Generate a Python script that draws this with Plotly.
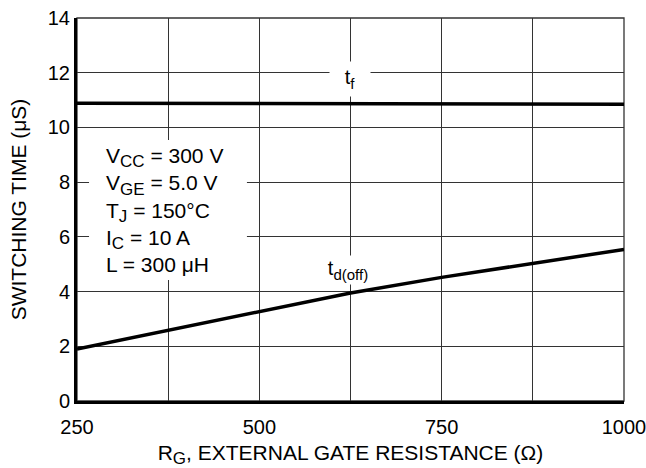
import plotly.graph_objects as go

rg = [250, 375, 500, 625, 750, 875, 1000]
t_f = [10.88, 10.875, 10.87, 10.865, 10.86, 10.855, 10.85]
t_doff = [1.90, 2.59, 3.26, 3.95, 4.52, 5.04, 5.54]

x_grid = [250, 375, 500, 625, 750, 875, 1000]
x_labels = ["250", "", "500", "", "750", "", "1000"]
y_ticks = [0, 2, 4, 6, 8, 10, 12, 14]

def sub(s, size=17):
    return f"<sub><span style='font-size:{size}px'>{s}</span></sub>"

conditions = [f"V{sub('CC')} = 300 V", f"V{sub('GE')} = 5.0 V", f"T{sub('J')} = 150°C",
              f"I{sub('C')} = 10 A", "L = 300 μH"]

FONT = "Liberation Sans, Arial, sans-serif"
TF = dict(size=20, family=FONT, color="black")
TT = dict(size=21, family=FONT, color="black")

fig = go.Figure()
fig.add_trace(go.Scatter(x=rg, y=t_f, mode="lines", line=dict(color="black", width=3.5), showlegend=False))
fig.add_trace(go.Scatter(x=rg, y=t_doff, mode="lines", line=dict(color="black", width=3.5), showlegend=False))

# t_f label box
fig.add_annotation(x=624, y=11.77, xref="x", yref="y", text="t" + sub("f", 15), showarrow=False,
                   bgcolor="white", font=dict(size=20, color="black", family=FONT),
                   width=38, height=32)
# t_d(off) label box
fig.add_annotation(x=621, y=4.79, xref="x", yref="y", text="t" + sub("d(off)", 15), showarrow=False,
                   bgcolor="white", font=dict(size=20, color="black", family=FONT),
                   width=52, height=26)
# conditions: white box covering grid, then text
fig.add_shape(type="rect", xref="x", yref="y", x0=266.5, x1=483, y0=4.42, y1=9.54,
              fillcolor="white", line=dict(width=0), layer="above")
fig.add_annotation(x=287, y=6.98, xref="x", yref="y", xanchor="left", align="left",
                   text="<br>".join(conditions), showarrow=False,
                   font=dict(size=21, color="black", family=FONT))

fig.update_xaxes(range=[250, 1000], tickvals=x_grid, ticktext=x_labels, automargin=False,
                 showgrid=True, gridcolor="#333", gridwidth=1.3,
                 showline=True, linecolor="black", linewidth=3, zeroline=False,
                 ticks="", tickfont=TF, ticklabeloverflow="allow", ticklabelstandoff=6,
                 title=dict(text="R" + sub("G", 17) + ", EXTERNAL GATE RESISTANCE (Ω)",
                            font=TT, standoff=12))
fig.update_yaxes(range=[0, 14], tickvals=y_ticks, automargin=False,
                 showgrid=True, gridcolor="#333", gridwidth=1.3,
                 showline=True, linecolor="black", linewidth=3, zeroline=False,
                 ticks="", tickfont=TF, ticklabeloverflow="allow",
                 title=dict(text="SWITCHING TIME (μS)", font=TT, standoff=16))

fig.add_shape(type="rect", xref="paper", yref="paper", x0=0, y0=0, x1=1, y1=1,
              line=dict(color="#333", width=1.3), layer="below")

fig.update_layout(width=646, height=468, margin=dict(l=77, r=22, t=18, b=67),
                  plot_bgcolor="white", paper_bgcolor="white",
                  font=dict(family=FONT, color="black"))

fig.write_html("out.html", config={"displayModeBar": False},
               post_script="document.body.style.margin='0';document.body.style.padding='0';")
